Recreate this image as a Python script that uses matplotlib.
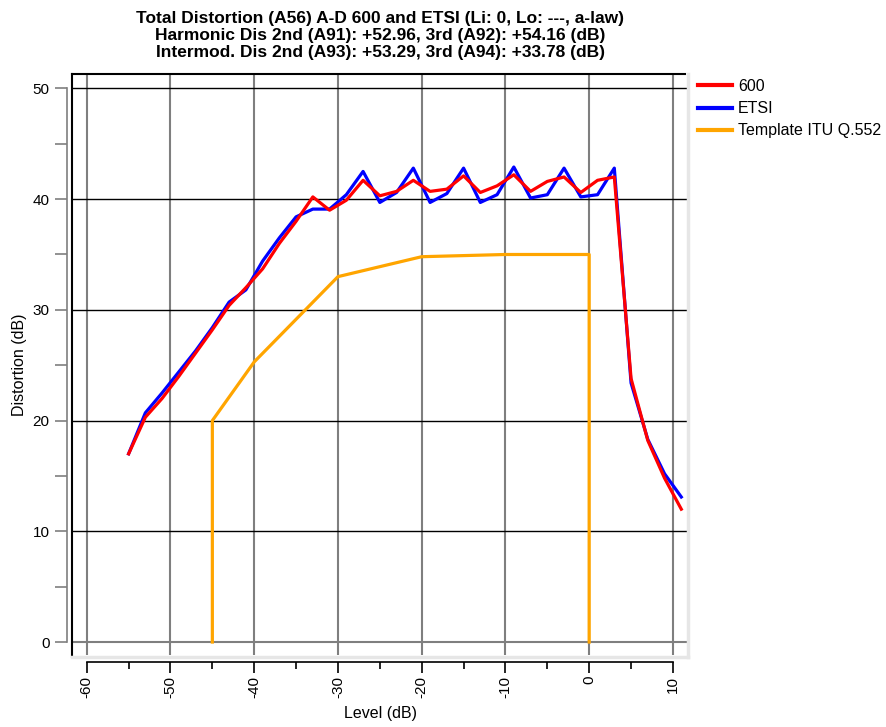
import matplotlib
matplotlib.use("Agg")
import matplotlib.pyplot as plt
from matplotlib.lines import Line2D
from matplotlib.ticker import MultipleLocator

#======================= data =======================

levels = [-55, -53, -51, -49, -47, -45, -43, -41, -39, -37, -35, -33, -31, -29,
          -27, -25, -23, -21, -19, -17, -15, -13, -11, -9, -7, -5, -3, -1,
          1, 3, 5, 7, 9, 11]

dist_600 = [17.0, 20.3, 22.0, 24.0, 26.1, 28.2, 30.4, 32.0, 33.7, 36.0, 38.0, 40.2,
            39.0, 39.9, 41.7, 40.3, 40.7, 41.7, 40.7, 40.9, 42.1, 40.6, 41.2, 42.2,
            40.7, 41.6, 42.0, 40.6, 41.7, 42.0, 23.8, 18.2, 14.8, 12.0]

dist_etsi = [17.0, 20.7, 22.5, 24.4, 26.3, 28.4, 30.7, 31.8, 34.4, 36.5, 38.4, 39.1,
             39.1, 40.4, 42.5, 39.7, 40.6, 42.8, 39.7, 40.5, 42.8, 39.7, 40.4, 42.9,
             40.1, 40.4, 42.8, 40.2, 40.4, 42.8, 23.4, 18.3, 15.2, 13.1]

template_x = [-45, -45, -40, -30, -20, -10, 0, 0]
template_y = [0, 20, 25.3, 33.0, 34.8, 35.0, 35.0, 0]

title_lines = [
    "Total Distortion (A56) A-D 600 and ETSI (Li: 0, Lo: ---, a-law)",
    "Harmonic Dis 2nd (A91): +52.96, 3rd (A92): +54.16 (dB)",
    "Intermod. Dis 2nd (A93): +53.29, 3rd (A94): +33.78 (dB)",
]

#================================ figure ===================================

plt.rcParams['font.family'] = ['Liberation Sans', 'DejaVu Sans']
plt.rcParams['axes.unicode_minus'] = False

W, H = 887, 727
fig = plt.figure(figsize=(W / 100, H / 100), dpi=100)
L, R, T, B = 72.5, 688, 74, 655
ax = fig.add_axes([L / W, 1 - B / H, (R - L) / W, (B - T) / H])

ax.set_xlim(-61.7, 11.8)
ax.set_ylim(-1.17, 51.3)

# grid: vertical gray, horizontal black
for xv in range(-60, 11, 10):
    ax.axvline(xv, color='#7f7f7f', lw=1.5, zorder=1)
for yv in range(10, 51, 10):
    ax.axhline(yv, color='black', lw=1.0, zorder=1)
ax.axhline(0, color='#7f7f7f', lw=1.5, zorder=1)

ax.plot(levels, dist_etsi, color='#0000ff', lw=2.3, label='ETSI', zorder=3)
ax.plot(levels, dist_600, color='#ff0000', lw=2.3, label='600', zorder=4)
ax.plot(template_x, template_y, color='#ffa500', lw=2.3, label='Template ITU Q.552', zorder=2)

# detached axis lines
ax.spines['top'].set_visible(False)
ax.spines['right'].set_visible(False)
ax.spines['left'].set_position(('outward', 4))
ax.spines['left'].set_bounds(0, 50)
ax.spines['left'].set_color('#7f7f7f')
ax.spines['left'].set_linewidth(1.2)
ax.spines['bottom'].set_position(('outward', 5))
ax.spines['bottom'].set_bounds(-60, 10)
ax.spines['bottom'].set_color('black')
ax.spines['bottom'].set_linewidth(1.2)

ax.xaxis.set_major_locator(MultipleLocator(10))
ax.xaxis.set_minor_locator(MultipleLocator(5))
ax.yaxis.set_major_locator(MultipleLocator(10))
ax.yaxis.set_minor_locator(MultipleLocator(5))
ax.tick_params(axis='x', which='major', direction='out', length=8, width=1.2,
               color='black', labelsize=11, pad=2, labelrotation=90)
ax.tick_params(axis='x', which='minor', direction='out', length=5, width=1.2, color='black')
ax.tick_params(axis='y', which='major', direction='out', length=8.5, width=1.2,
               color='#7f7f7f', labelsize=11, pad=4)
ax.tick_params(axis='y', which='minor', direction='out', length=8.5, width=1.2, color='#7f7f7f')

# plot frame: dark on top/left, light on bottom/right
fr = dict(transform=ax.transAxes, clip_on=False, zorder=5)
ax.add_line(Line2D([0, 0], [-0.004, 1], color='black', lw=1.5, **fr))
ax.add_line(Line2D([0, 0.995], [1, 1], color='black', lw=1.5, **fr))
ax.add_line(Line2D([1, 1], [-0.004, 1], color='#e6e6e6', lw=2.5, **fr))
ax.add_line(Line2D([0, 1], [-0.004, -0.004], color='#e6e6e6', lw=2.5, **fr))

ax.set_xlabel('Level (dB)', fontsize=11.5, labelpad=6)
ax.set_ylabel('Distortion (dB)', fontsize=11.5, labelpad=4)
ax.set_title('\n'.join(title_lines), fontsize=12.5, fontweight='bold', linespacing=1.17, pad=12.5)

h, lab = ax.get_legend_handles_labels()
order = [1, 0, 2]
ax.legend([h[i] for i in order], [lab[i] for i in order],
          loc='upper left', bbox_to_anchor=(698 / W, 1 - 79 / H),
          bbox_transform=fig.transFigure, frameon=False, fontsize=11.5,
          handlelength=2.1, handletextpad=0.42, labelspacing=0.45,
          borderpad=0, borderaxespad=0)
for ln in ax.get_legend().get_lines():
    ln.set_linewidth(3.0)

fig.savefig('out.png', dpi=100)
